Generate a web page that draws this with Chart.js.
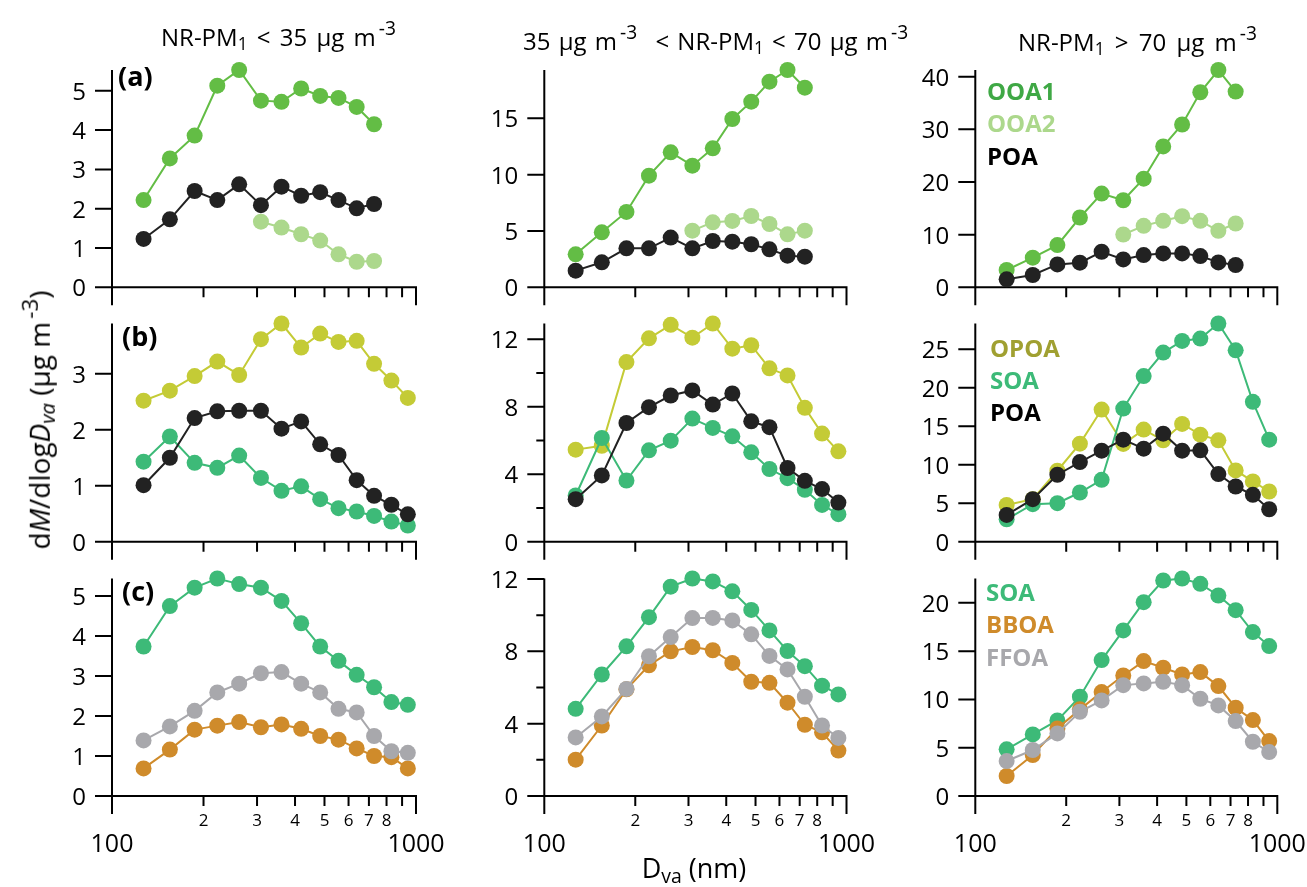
<!DOCTYPE html>
<html>
<head>
<meta charset="utf-8">
<script src="https://cdn.jsdelivr.net/npm/chart.js@4.4.0/dist/chart.umd.min.js"></script>
<style>
body { margin: 0; background: #fff; font-family: "Open Sans", sans-serif; }
#wrap { position: relative; width: 1307px; height: 887px; overflow: hidden; }
#wrap canvas { position: absolute; left: 0; top: 0; pointer-events: none; }
.t { position: absolute; white-space: nowrap; line-height: 1; color: #000; }
.sub { position: relative; font-size: 0.72em; top: 0.25em; }
.sup { position: relative; font-size: 0.8em; top: -0.55em; margin-left: 3px; }
</style>
</head>
<body>
<div id="wrap"></div>
<script>
// vacuum aerodynamic diameter of each size bin (nm)
const sizeBins = [127, 155, 187, 222, 262, 309, 361, 419, 484, 556, 638, 728, 830, 940];

// row (a): OOA1 / OOA2 / POA (12 bins, OOA2 from bin 6)
const a1OOA1 = [2.22, 3.28, 3.86, 5.13, 5.53, 4.75, 4.72, 5.06, 4.87, 4.82, 4.59, 4.15];
const a1OOA2 = [null, null, null, null, null, 1.67, 1.52, 1.35, 1.19, 0.84, 0.65, 0.67];
const a1POA  = [1.23, 1.73, 2.45, 2.22, 2.62, 2.09, 2.56, 2.33, 2.42, 2.22, 2.01, 2.12];
const a2OOA1 = [2.93, 4.88, 6.69, 9.91, 11.98, 10.80, 12.34, 14.94, 16.48, 18.25, 19.29, 17.72];
const a2OOA2 = [null, null, null, null, null, 5.03, 5.77, 5.89, 6.33, 5.62, 4.70, 5.03];
const a2POA  = [1.48, 2.22, 3.46, 3.46, 4.41, 3.46, 4.11, 4.05, 3.82, 3.37, 2.81, 2.72];
const a3OOA1 = [3.28, 5.62, 8.01, 13.25, 17.79, 16.53, 20.63, 26.75, 30.91, 37.03, 41.26, 37.16];
const a3OOA2 = [null, null, null, null, null, 10.03, 11.67, 12.62, 13.50, 12.62, 10.73, 12.11];
const a3POA  = [1.51, 2.33, 4.35, 4.67, 6.75, 5.30, 6.12, 6.44, 6.44, 5.93, 4.73, 4.23];

// row (b): OPOA / SOA / POA
const b1OPOA = [2.52, 2.70, 2.96, 3.22, 2.98, 3.62, 3.90, 3.47, 3.72, 3.57, 3.59, 3.18, 2.88, 2.57];
const b1SOA  = [1.43, 1.88, 1.41, 1.32, 1.54, 1.14, 0.91, 0.99, 0.76, 0.60, 0.54, 0.46, 0.36, 0.29];
const b1POA  = [1.01, 1.50, 2.21, 2.33, 2.34, 2.34, 2.02, 2.15, 1.74, 1.55, 1.10, 0.82, 0.66, 0.49];
const b2OPOA = [5.46, 5.69, 10.65, 12.06, 12.86, 12.10, 12.94, 11.45, 11.65, 10.28, 9.86, 7.94, 6.41, 5.36];
const b2SOA  = [2.74, 6.15, 3.63, 5.42, 5.99, 7.30, 6.75, 6.25, 5.30, 4.31, 3.77, 3.08, 2.18, 1.63];
const b2POA  = [2.52, 3.93, 7.04, 7.98, 8.67, 8.97, 8.13, 8.79, 7.14, 6.79, 4.37, 3.61, 3.12, 2.32];
const b3OPOA = [4.78, 5.52, 9.22, 12.74, 17.17, 12.70, 14.57, 13.17, 15.30, 13.91, 13.17, 9.26, 7.83, 6.52];
const b3SOA  = [2.91, 4.87, 5.00, 6.39, 8.04, 17.30, 21.52, 24.57, 26.09, 26.39, 28.35, 24.87, 18.17, 13.26];
const b3POA  = [3.48, 5.52, 8.70, 10.35, 11.83, 13.26, 12.09, 14.04, 11.83, 11.87, 8.78, 7.17, 6.09, 4.22];

// row (c): SOA / BBOA / FFOA
const c1SOA  = [3.74, 4.75, 5.21, 5.44, 5.30, 5.21, 4.88, 4.32, 3.74, 3.38, 3.03, 2.72, 2.35, 2.28];
const c1BBOA = [0.69, 1.16, 1.66, 1.76, 1.85, 1.72, 1.79, 1.68, 1.50, 1.41, 1.19, 1.00, 0.97, 0.69];
const c1FFOA = [1.39, 1.74, 2.13, 2.59, 2.81, 3.07, 3.10, 2.81, 2.59, 2.18, 2.09, 1.50, 1.12, 1.08];
const c2SOA  = [4.82, 6.72, 8.28, 9.89, 11.58, 12.03, 11.87, 11.32, 10.29, 9.16, 8.02, 7.18, 6.10, 5.62];
const c2BBOA = [2.01, 3.90, 5.90, 7.23, 8.00, 8.24, 8.06, 7.36, 6.32, 6.26, 5.16, 3.94, 3.52, 2.51];
const c2FFOA = [3.24, 4.40, 5.92, 7.73, 8.79, 9.84, 9.85, 9.71, 8.94, 7.75, 7.00, 5.49, 3.90, 3.21];
const c3SOA  = [4.83, 6.38, 7.83, 10.28, 14.07, 17.14, 20.07, 22.31, 22.52, 21.97, 20.76, 19.24, 16.97, 15.52];
const c3BBOA = [2.07, 4.24, 7.00, 8.97, 10.76, 12.48, 13.97, 13.28, 12.59, 12.83, 11.38, 9.14, 7.86, 5.69];
const c3FFOA = [3.62, 4.76, 6.48, 8.72, 9.90, 11.48, 11.66, 11.83, 11.48, 10.07, 9.38, 7.76, 5.62, 4.55];

// axis ticks
const xMajorTicks = [100, 1000];
const xMajorLabels = ['100', '1000'];
const xMinorTicks = [200, 300, 400, 500, 600, 700, 800, 900];
const xMinorLabels = ['2', '3', '4', '5', '6', '7', '8', ''];
const yTicks = [
  [[0, 1, 2, 3, 4, 5], [0, 5, 10, 15], [0, 10, 20, 30, 40]],
  [[0, 1, 2, 3], [0, 2, 4, 6, 8, 10, 12], [0, 5, 10, 15, 20, 25]],
  [[0, 1, 2, 3, 4, 5], [0, 2, 4, 6, 8, 10, 12], [0, 5, 10, 15, 20]]
];
const yTickLabels = [
  [['0', '1', '2', '3', '4', '5'], ['0', '5', '10', '15'], ['0', '10', '20', '30', '40']],
  [['0', '1', '2', '3'], ['0', '', '4', '', '8', '', '12'], ['0', '5', '10', '15', '20', '25']],
  [['0', '1', '2', '3', '4', '5'], ['0', '', '4', '', '8', '', '12'], ['0', '5', '10', '15', '20']]
];

const colors = {
  OOA1: '#63bd45', OOA2: '#acd88c', POA: '#222222',
  OPOA: '#c4cb36', SOA: '#3dba78', BBOA: '#cf8b2b', FFOA: '#a8a8ac'
};
const legendColors = {
  OOA1: '#3fa845', OOA2: '#acd88c', POA: '#000000',
  OPOA: '#a0a031', SOA: '#3dba78', BBOA: '#cf8b2b', FFOA: '#a8a8ac'
};

// first series in each list is drawn on top
const panels = [
  [[['POA', a1POA], ['OOA2', a1OOA2], ['OOA1', a1OOA1]],
   [['POA', a2POA], ['OOA2', a2OOA2], ['OOA1', a2OOA1]],
   [['POA', a3POA], ['OOA2', a3OOA2], ['OOA1', a3OOA1]]],
  [[['POA', b1POA], ['SOA', b1SOA], ['OPOA', b1OPOA]],
   [['POA', b2POA], ['SOA', b2SOA], ['OPOA', b2OPOA]],
   [['POA', b3POA], ['SOA', b3SOA], ['OPOA', b3OPOA]]],
  [[['FFOA', c1FFOA], ['BBOA', c1BBOA], ['SOA', c1SOA]],
   [['FFOA', c2FFOA], ['BBOA', c2BBOA], ['SOA', c2SOA]],
   [['FFOA', c3FFOA], ['BBOA', c3BBOA], ['SOA', c3SOA]]]
];
const legends = [['OOA1', 'OOA2', 'POA'], ['OPOA', 'SOA', 'POA'], ['SOA', 'BBOA', 'FFOA']];

const W = 1307, H = 887;
const colLeft = [112, 544.3, 975.3];
const colRight = [416, 846.5, 1277.3];
const rowTop = [70, 323.5, 578.5];
const rowBase = [287.3, 541.7, 796];
const FONT = '"Open Sans", sans-serif';

const wrap = document.getElementById('wrap');

function addText(html, x, baseline, size, style) {
  const d = document.createElement('div');
  d.className = 't';
  d.innerHTML = html;
  d.style.fontSize = size + 'px';
  d.style.left = x + 'px';
  d.style.top = (baseline - 0.888 * size) + 'px';
  Object.assign(d.style, style || {});
  wrap.appendChild(d);
  return d;
}

function axesPlugin(row, col) {
  return {
    id: 'panelAxes',
    beforeDatasetsDraw(chart) {
      const { ctx, chartArea, scales: { x, y } } = chart;
      const y0 = y.getPixelForValue(0);
      const xl = x.getPixelForValue(100);
      const xr = x.getPixelForValue(1000);
      ctx.save();
      ctx.strokeStyle = '#000';
      ctx.fillStyle = '#000';
      ctx.lineWidth = 2;
      ctx.beginPath();
      ctx.moveTo(xl, chartArea.top);
      ctx.lineTo(xl, y0);
      ctx.moveTo(xl, y0);
      ctx.lineTo(xr, y0);
      // y ticks, labelled ones are longer
      const ticks = yTicks[row][col], labels = yTickLabels[row][col];
      ticks.forEach((v, i) => {
        const py = y.getPixelForValue(v);
        ctx.moveTo(xl - (labels[i] ? 17 : 8), py);
        ctx.lineTo(xl, py);
      });
      xMajorTicks.forEach(v => {
        const px = x.getPixelForValue(v);
        ctx.moveTo(px, y0 - 1);
        ctx.lineTo(px, y0 + 18);
      });
      xMinorTicks.forEach(v => {
        const px = x.getPixelForValue(v);
        ctx.moveTo(px, y0);
        ctx.lineTo(px, y0 + 10);
      });
      ctx.stroke();

      ctx.font = '24px ' + FONT;
      ctx.textAlign = 'right';
      ctx.textBaseline = 'alphabetic';
      ticks.forEach((v, i) => {
        if (labels[i]) ctx.fillText(labels[i], xl - 26, y.getPixelForValue(v) + 9);
      });
      if (row === 2) {
        ctx.textAlign = 'center';
        ctx.font = '17px ' + FONT;
        xMinorTicks.forEach((v, i) => ctx.fillText(xMinorLabels[i], x.getPixelForValue(v), y0 + 29.5));
        ctx.font = '25px ' + FONT;
        xMajorTicks.forEach((v, i) => ctx.fillText(xMajorLabels[i], x.getPixelForValue(v), y0 + 56));
      }
      ctx.restore();
    }
  };
}

panels.forEach((rowPanels, row) => {
  rowPanels.forEach((series, col) => {
    const canvas = document.createElement('canvas');
    canvas.width = W;
    canvas.height = H;
    wrap.appendChild(canvas);
    const all = series.flatMap(s => s[1]).filter(v => v !== null);
    new Chart(canvas, {
      type: 'scatter',
      data: {
        datasets: series.map(([name, values]) => ({
          label: name,
          data: values.map((v, i) => ({ x: sizeBins[i], y: v })),
          showLine: true,
          borderColor: colors[name],
          backgroundColor: colors[name],
          pointBackgroundColor: colors[name],
          pointBorderColor: colors[name],
          borderWidth: 2,
          pointRadius: 8,
          pointBorderWidth: 0,
          pointHoverRadius: 8,
          clip: false
        }))
      },
      options: {
        responsive: false,
        animation: false,
        events: [],
        layout: {
          padding: {
            left: colLeft[col], right: W - colRight[col],
            top: rowTop[row], bottom: H - rowBase[row]
          }
        },
        scales: {
          x: { type: 'logarithmic', min: 100, max: 1000, display: false },
          y: { type: 'linear', min: 0, max: Math.max(...all), display: false }
        },
        plugins: { legend: { display: false }, tooltip: { enabled: false } }
      },
      plugins: [axesPlugin(row, col)]
    });
  });
});

// column titles
addText('NR-PM<span class="sub">1</span> &lt; 35 μg m<span class="sup">-3</span>', 161, 46, 24, { wordSpacing: '3px' });
addText('35 μg m<span class="sup" style="margin-right:10px">-3</span> &lt; NR-PM<span class="sub">1</span> &lt; 70 μg m<span class="sup">-3</span>', 523, 50, 24, { wordSpacing: '2px' });
addText('NR-PM<span class="sub">1</span> &gt; 70 μg m<span class="sup">-3</span>', 1018, 51, 24, { wordSpacing: '4px' });

// panel letters
addText('(a)', 118, 86, 27, { fontWeight: 'bold' });
addText('(b)', 122, 346, 27, { fontWeight: 'bold' });
addText('(c)', 122, 601, 27, { fontWeight: 'bold' });

// legends in the right column
const legendBase = [[100, 132, 165], [357, 389, 421], [601, 633, 666]];
const legendLeft = [987, 990, 986];
legends.forEach((names, row) => {
  names.forEach((n, i) => addText(n, legendLeft[row], legendBase[row][i], 24,
    { fontWeight: 'bold', color: legendColors[n] }));
});

// axis titles
const yl = addText('d<i>M</i>/dlog<i>D</i><span class="sub"><i>va</i></span> (μg m<span class="sup">-3</span>)', 0, 0, 28);
yl.style.left = '39px';
yl.style.top = '420px';
yl.style.transform = 'translate(-50%, -50%) rotate(-90deg)';
const xlab = addText('D<span class="sub">va</span> (nm)', 694, 878, 27);
xlab.style.transform = 'translateX(-50%)';
</script>
</body>
</html>
